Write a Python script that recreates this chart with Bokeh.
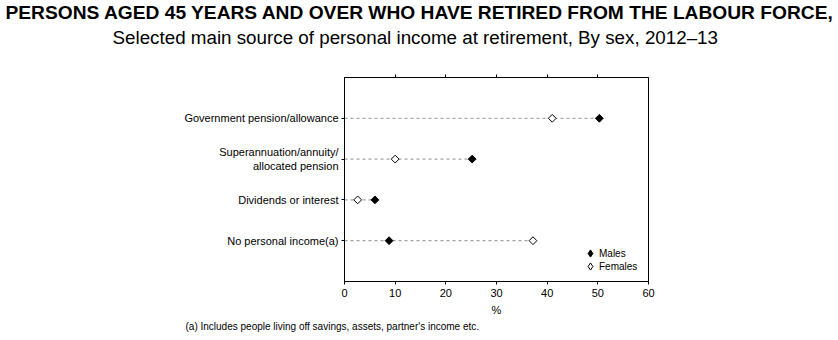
import numpy as np
from bokeh.plotting import figure
from bokeh.models import (ColumnDataSource, FixedTicker, LinearAxis, Title,
                          Legend, LegendItem)
from bokeh.embed import file_html
from bokeh.resources import INLINE

# ---- data ----
categories = ["Government pension/allowance",
              "Superannuation/annuity/\nallocated pension",
              "Dividends or interest",
              "No personal income(a)"]
cat_pos = [4, 3, 2, 1]
males = [50.3, 25.2, 6.0, 8.8]
females = [41.0, 10.0, 2.6, 37.2]
x_ticks = [0, 10, 20, 30, 40, 50, 60]
series_labels = ["Males", "Females"]

title_text = "PERSONS AGED 45 YEARS AND OVER WHO HAVE RETIRED FROM THE LABOUR FORCE,"
subtitle_text = "Selected main source of personal income at retirement, By sex, 2012\u201313"
footnote_text = "(a) Includes people living off savings, assets, partner's income etc."

FONT = "Liberation Sans"

src = ColumnDataSource(dict(
    y=cat_pos, males=males, females=females,
    xmax=list(np.maximum(males, females)), x0=[0] * len(cat_pos)))

p = figure(width=838, height=340, output_backend="svg", toolbar_location=None,
           x_range=(0, 60), y_range=(0, 5),
           min_border_left=344, min_border_right=190,
           min_border_top=77, min_border_bottom=59)
p.grid.visible = False
p.outline_line_color = "black"
p.outline_line_width = 1
p.background_fill_color = "white"
p.border_fill_color = "white"

# axes
xa = p.xaxis[0]
xa.ticker = FixedTicker(ticks=x_ticks)
xa.minor_tick_line_color = None
xa.major_tick_out = 3
xa.major_tick_in = 0
xa.axis_line_color = "black"
xa.major_tick_line_color = "black"
xa.major_label_text_font = FONT
xa.major_label_text_font_size = "11px"
xa.major_label_text_color = "black"
xa.major_label_standoff = 4
xa.axis_label = "%"
xa.axis_label_text_font = FONT
xa.axis_label_text_font_size = "11px"
xa.axis_label_text_font_style = "normal"
xa.axis_label_text_color = "black"
xa.axis_label_standoff = 4

ya = p.yaxis[0]
ya.ticker = FixedTicker(ticks=cat_pos)
ya.major_label_overrides = {pos: lab for pos, lab in zip(cat_pos, categories)}
ya.minor_tick_line_color = None
ya.major_tick_out = 3
ya.major_tick_in = 0
ya.axis_line_color = "black"
ya.major_label_text_font = FONT
ya.major_label_text_font_size = "11px"
ya.major_label_text_color = "black"
ya.major_label_standoff = 3

top = LinearAxis(ticker=FixedTicker(ticks=x_ticks[1:-1]),
                 major_label_overrides={t: " " for t in x_ticks},
                 major_tick_out=3, major_tick_in=0,
                 minor_tick_line_color=None, axis_line_color="black",
                 major_label_text_font_size="1px", major_label_standoff=20)
p.add_layout(top, "above")

# dashed connectors
p.segment(x0="x0", x1="xmax", y0="y", y1="y", source=src,
          line_color="#8c8c8c", line_dash="3 3", line_width=1)

# legend-key renderers: small diamonds fully covered by the visible markers
lm = p.scatter(x="males", y="y", source=src, marker="diamond", size=4,
               fill_color="black", line_color="black")
lf = p.scatter(x="females", y="y", source=src, marker="diamond", size=4,
               fill_color="white", line_color="black")

# visible markers (equal-sided diamonds)
p.scatter(x="males", y="y", source=src, marker="square", angle=np.pi / 4,
          size=5.5, fill_color="black", line_color="black", line_width=1)
p.scatter(x="females", y="y", source=src, marker="square", angle=np.pi / 4,
          size=5.5, fill_color="white", line_color="black", line_width=1)

def make_legend(label, rend, loc):
    return Legend(items=[LegendItem(label=label, renderers=[rend])],
                  location=loc, orientation="vertical",
                  glyph_width=18, glyph_height=18, label_standoff=0,
                  label_height=10, spacing=0, padding=0, margin=0,
                  border_line_color=None, background_fill_alpha=0,
                  label_text_font=FONT, label_text_font_size="10px",
                  label_text_color="black")

p.add_layout(make_legend(series_labels[0], lm, (237, 19)))
p.add_layout(make_legend(series_labels[1], lf, (237, 6)))

# titles
sub = Title(text=subtitle_text, align="left", offset=112 - 344,
            text_font=FONT, text_font_size="18.8px", text_font_style="normal",
            text_color="black", standoff=6)
p.add_layout(sub, "above")
ttl = Title(text=title_text, align="left", offset=5 - 344,
            text_font=FONT, text_font_size="19.2px", text_font_style="bold",
            text_color="black", standoff=-2)
p.add_layout(ttl, "above")

foot = Title(text=footnote_text, align="left", offset=185 - 344,
             text_font=FONT, text_font_size="10px", text_font_style="normal",
             text_color="black", standoff=0)
p.add_layout(foot, "below")

open("out.html", "w").write(file_html(p, INLINE))
